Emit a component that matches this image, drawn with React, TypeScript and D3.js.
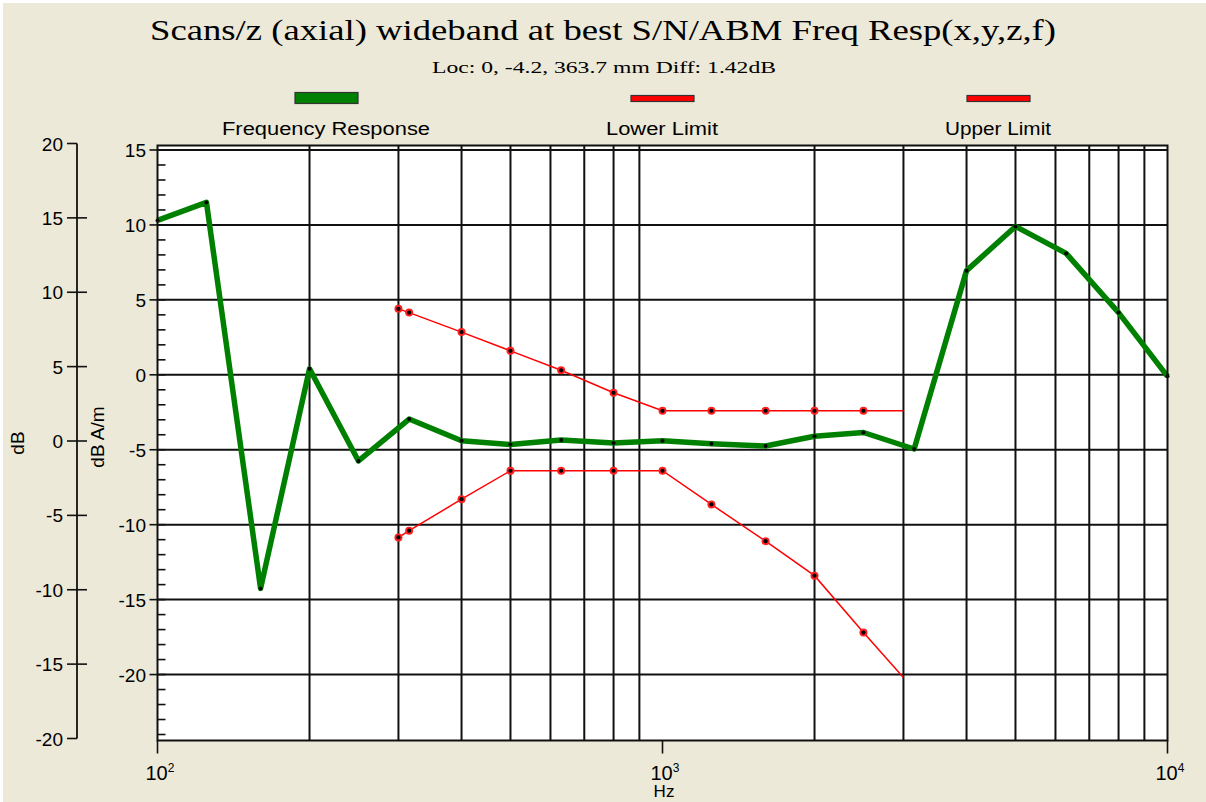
import React from 'react';
import * as d3 from 'd3';

// frequency points (Hz) and measured response (dB A/m)
const freqs = [100, 125, 160, 200, 250, 315, 400, 500, 630, 800, 1000, 1250, 1600, 2000, 2500, 3150, 4000, 5000, 6300, 8000, 10000];
const response = [10.3, 11.5, -14.25, 0.4, -5.75, -2.95, -4.4, -4.65, -4.35, -4.55, -4.4, -4.6, -4.75, -4.1, -3.85, -4.95, 6.95, 9.9, 8.1, 4.15, -0.1];

const limitFreqs = [300, 315, 400, 500, 630, 800, 1000, 1250, 1600, 2000, 2500, 3000];
const upperLimit = [4.4, 4.15, 2.85, 1.6, 0.3, -1.2, -2.4, -2.4, -2.4, -2.4, -2.4, -2.4];
const lowerLimit = [-10.85, -10.4, -8.3, -6.4, -6.4, -6.4, -6.4, -8.65, -11.1, -13.4, -17.2, -20.2];

const innerTicks = [15, 10, 5, 0, -5, -10, -15, -20];
const outerTicks = [20, 15, 10, 5, 0, -5, -10, -15, -20];
const decadeTicks = [100, 1000, 10000];
const decadeLabels = ['2', '3', '4'];

const legendItems = ['Frequency Response', 'Lower Limit', 'Upper Limit'];
const legendWidths = [208, 112, 106];

const W = 1206;
const H = 802;
const sans = '"Liberation Sans", Arial, sans-serif';
const serif = '"Liberation Serif", "Times New Roman", serif';

export default function App() {
  const left = 157.5;
  const right = 1167.5;
  const top = 145.5;
  const bottom = 740.5;

  const x = d3.scaleLog().domain([100, 10000]).range([left, right]);
  const y = d3.scaleLinear().domain([-24.4, 15.3]).range([bottom, top]);
  const yOuter = d3.scaleLinear().domain([-20, 20]).range([738.5, 143.5]);

  const minorX: number[] = [];
  [100, 1000].forEach(d => {
    for (let k = 2; k <= 9; k++) minorX.push(d * k);
  });
  const minorY = d3.range(-24, 16, 1);

  const line = d3.line<[number, number]>()
    .x(d => x(d[0]))
    .y(d => y(d[1]));

  const respPts = freqs.map((f, i) => [f, response[i]] as [number, number]);
  const upPts = limitFreqs.map((f, i) => [f, upperLimit[i]] as [number, number]);
  const lowPts = limitFreqs.map((f, i) => [f, lowerLimit[i]] as [number, number]);

  const legendX = [326, 662, 998];

  return (
    <svg width={W} height={H} style={{ position: 'absolute', left: 0, top: 0 }}>
      <rect x={0} y={0} width={W} height={H} fill="#ffffff" />
      <rect x={3} y={3} width={W - 3} height={H - 3} fill="#ECE9D8" />

      <text x={603} y={40} textAnchor="middle" fontFamily={serif} fontSize={30}
        textLength={906} lengthAdjust="spacingAndGlyphs" fill="#000">
        Scans/z (axial) wideband at best S/N/ABM Freq Resp(x,y,z,f)
      </text>
      <text x={604} y={73} textAnchor="middle" fontFamily={serif} fontSize={16}
        textLength={344} lengthAdjust="spacingAndGlyphs" fill="#000">
        Loc: 0, -4.2, 363.7 mm Diff: 1.42dB
      </text>

      {legendItems.map((name, i) => (
        <g key={name}>
          {i === 0 ? (
            <rect x={legendX[i] - 31} y={92.5} width={63} height={11} fill="#008000" stroke="#333" strokeWidth={1.2} />
          ) : (
            <rect x={legendX[i] - 31} y={95.5} width={63} height={6} fill="#ff0000" stroke="#333" strokeWidth={1.2} />
          )}
          <text x={legendX[i]} y={135} textAnchor="middle" fontFamily={sans} fontSize={18}
            textLength={legendWidths[i]} lengthAdjust="spacingAndGlyphs" fill="#000">{name}</text>
        </g>
      ))}

      {/* plot area */}
      <rect x={left} y={top} width={right - left} height={bottom - top} fill="#ffffff" />

      {minorX.map(f => (
        <line key={'vx' + f} x1={x(f)} x2={x(f)} y1={top} y2={bottom} stroke="#111" strokeWidth={2} />
      ))}
      {innerTicks.map(t => (
        <line key={'hy' + t} x1={left} x2={right} y1={y(t)} y2={y(t)} stroke="#111" strokeWidth={2} />
      ))}
      {minorY.map(t => (
        <line key={'my' + t} x1={left} x2={left + 8} y1={y(t)} y2={y(t)} stroke="#111" strokeWidth={1.6} />
      ))}

      {/* limit lines */}
      <path d={line(upPts) ?? ''} fill="none" stroke="#ff0000" strokeWidth={1.5} />
      <path d={line(lowPts) ?? ''} fill="none" stroke="#ff0000" strokeWidth={1.5} />
      {[upPts, lowPts].map((pts, j) =>
        pts.slice(0, -1).map((p, i) => (
          <g key={'lm' + j + '-' + i}>
            <circle cx={x(p[0])} cy={y(p[1])} r={4} fill="#ff2020" />
            <circle cx={x(p[0])} cy={y(p[1])} r={2.1} fill="#000" />
          </g>
        ))
      )}

      {/* frequency response */}
      <path d={line(respPts) ?? ''} fill="none" stroke="#008000" strokeWidth={5.5} strokeLinejoin="round" />
      {respPts.map((p, i) => (
        <circle key={'rm' + i} cx={x(p[0])} cy={y(p[1])} r={2} fill="#000" />
      ))}

      <rect x={left} y={top} width={right - left} height={bottom - top} fill="none" stroke="#111" strokeWidth={2} />

      {/* inner y axis */}
      {innerTicks.map(t => (
        <g key={'iy' + t}>
          <line x1={left - 8} x2={left} y1={y(t)} y2={y(t)} stroke="#111" strokeWidth={1.6} />
          <text x={146} y={y(t) + 7} textAnchor="end" fontFamily={sans} fontSize={19} fill="#000">{t}</text>
        </g>
      ))}

      {/* outer y axis */}
      <line x1={77} x2={77} y1={yOuter(20)} y2={yOuter(-20)} stroke="#111" strokeWidth={1.8} />
      {outerTicks.map(t => (
        <g key={'oy' + t}>
          <line x1={67} x2={Math.abs(t) === 20 ? 77 : 87} y1={yOuter(t)} y2={yOuter(t)} stroke="#111" strokeWidth={1.6} />
          <text x={63} y={yOuter(t) + 7} textAnchor="end" fontFamily={sans} fontSize={19} fill="#000">{t}</text>
        </g>
      ))}

      <text transform="translate(24,443) rotate(-90)" textAnchor="middle" fontFamily={sans} fontSize={19} fill="#000">dB</text>
      <text transform="translate(104,437) rotate(-90)" textAnchor="middle" fontFamily={sans} fontSize={19} fill="#000">dB A/m</text>

      {/* x axis */}
      {decadeTicks.map((f, i) => (
        <g key={'xt' + f}>
          <line x1={x(f)} x2={x(f)} y1={bottom} y2={bottom + 13} stroke="#111" strokeWidth={1.6} />
          <text x={x(f) - 12} y={780} fontFamily={sans} fontSize={20} fill="#000">
            10<tspan dy={-8} fontSize={12}>{decadeLabels[i]}</tspan>
          </text>
        </g>
      ))}
      <text x={664} y={797} textAnchor="middle" fontFamily={sans} fontSize={17} fill="#000">Hz</text>
    </svg>
  );
}
